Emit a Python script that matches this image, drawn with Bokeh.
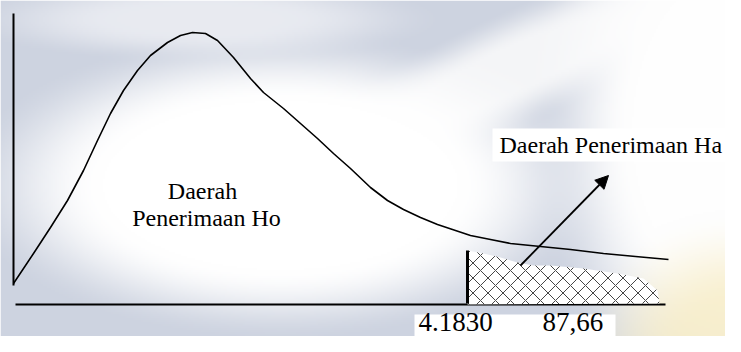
import numpy as np
from bokeh.plotting import figure
from bokeh.models import Range1d, Arrow, NormalHead
from bokeh.core.properties import value
from bokeh.embed import file_html
from bokeh.resources import INLINE

# ---- data (schematic F-distribution, x in horizontal units, h = height above baseline) ----
curve_x = [13, 33, 50, 67, 83, 97, 110, 123, 137, 150, 167, 180, 192, 205, 217,
           233, 250, 263, 283, 300, 317, 333, 350, 370, 387, 403, 420, 437, 455,
           470, 490, 510, 540, 570, 603, 635, 668]
curve_h = [21, 51, 77, 104, 134, 164, 191, 214, 234, 249, 262, 269, 272, 271, 264,
           247, 226, 212, 196, 181, 166, 151, 136, 117, 104, 95, 87, 80, 74,
           69, 65, 61, 58, 55, 51, 48, 45]

tail_x = [467, 483, 500, 517, 533, 550, 583, 617, 643, 657, 659]
tail_h = [54, 51, 47, 42, 39, 39, 36, 31, 26, 14, 1]

critical_x = 467
critical_h = 54
tick_labels = ["4.1830", "87,66"]
tick_label_x = [418, 542]

region_ho = ["Daerah", "Penerimaan Ho"]
region_ha = "Daerah Penerimaan Ha"

axis_x0, axis_x1 = 13, 665
axis_top = 291

FONT = value("Liberation Serif")

p = figure(width=725, height=336, x_range=Range1d(0, 725), y_range=Range1d(-32, 304),
           output_backend="svg", toolbar_location=None, min_border=0,
           x_axis_location=None, y_axis_location=None)
p.xgrid.visible = False
p.ygrid.visible = False
p.outline_line_color = None
p.background_fill_color = "white"
p.border_fill_color = "white"

# ---- soft background decoration ----
W, H = 363, 168
xs = np.linspace(0, 725, W)
ys = np.linspace(336, 0, H)  # image row 0 is bottom
X, Y = np.meshgrid(xs, ys)


def blob(cx, cy, rx, ry, ang=0.0, soft=0.35):
    a = np.deg2rad(ang)
    dx, dy = X - cx, Y - cy
    u = (dx * np.cos(a) + dy * np.sin(a)) / rx
    v = (-dx * np.sin(a) + dy * np.cos(a)) / ry
    d = np.sqrt(u * u + v * v)
    t = np.clip((1 + soft - d) / (2 * soft), 0, 1)
    return t * t * (3 - 2 * t)


rgb = np.zeros((H, W, 3))
rgb[:] = (205, 211, 224)


def mix(w, col):
    global rgb
    w = w[..., None]
    rgb = rgb * (1 - w) + np.array(col) * w


mix(blob(200, 18, 170, 30, 0, 0.5) * 0.6, (250, 250, 252))
mix(blob(510, 70, 210, 40, -25, 0.5) * 0.85, (252, 252, 252))
mix(blob(280, 185, 255, 122, 0, 0.3), (255, 255, 255))
mix(blob(730, 130, 150, 240, 0, 0.35), (254, 254, 254))
mix(blob(745, 352, 120, 95, 0, 0.5) * 0.8, (247, 236, 196))

img = np.empty((H, W), dtype=np.uint32)
view = img.view(dtype=np.uint8).reshape((H, W, 4))
view[..., :3] = np.clip(rgb, 0, 255).astype(np.uint8)
view[..., 3] = 255
p.image_rgba(image=[img], x=0, y=-32, dw=725, dh=336)

# ---- white label boxes ----
p.quad(left=[492, 414], right=[730, 615], bottom=[304 - 161, -40], top=[304 - 128, 304 - 314],
       fill_color="white", line_color=None)

# ---- axes lines ----
p.line([axis_x0, axis_x0], [axis_top, 19], line_color="black", line_width=2)
p.line([axis_x0 + 2, axis_x1], [0, 0], line_color="black", line_width=2)

# ---- hatched rejection area ----
p.patch(x=tail_x + [critical_x], y=tail_h + [0], fill_color="white",
        hatch_pattern="x", hatch_scale=15, hatch_weight=1, hatch_color="#444444",
        line_color=None)
p.line([critical_x, critical_x], [1, critical_h], line_color="black", line_width=3)

# ---- distribution curve ----
p.line(curve_x, curve_h, line_color="black", line_width=1.6, line_join="round")

# ---- arrow ----
p.add_layout(Arrow(end=NormalHead(size=13, fill_color="black", line_color="black"),
                   x_start=520, y_start=39, x_end=608, y_end=129,
                   line_color="black", line_width=1.8))

# ---- texts (vertical centres) ----
p.text(x=[202, 206], y=[304 - 190, 304 - 217], text=region_ho, text_font=FONT,
       text_font_size="24px", text_align="center", text_baseline="middle",
       text_color="black")
p.text(x=[499], y=[304 - 144], text=[region_ha], text_font=FONT,
       text_font_size="24px", text_align="left", text_baseline="middle",
       text_color="black")
p.text(x=tick_label_x, y=[304 - 321] * 2, text=tick_labels, text_font=FONT,
       text_font_size="27px", text_align="left", text_baseline="middle",
       text_color="black")

open("out.html", "w").write(file_html(p, INLINE))
